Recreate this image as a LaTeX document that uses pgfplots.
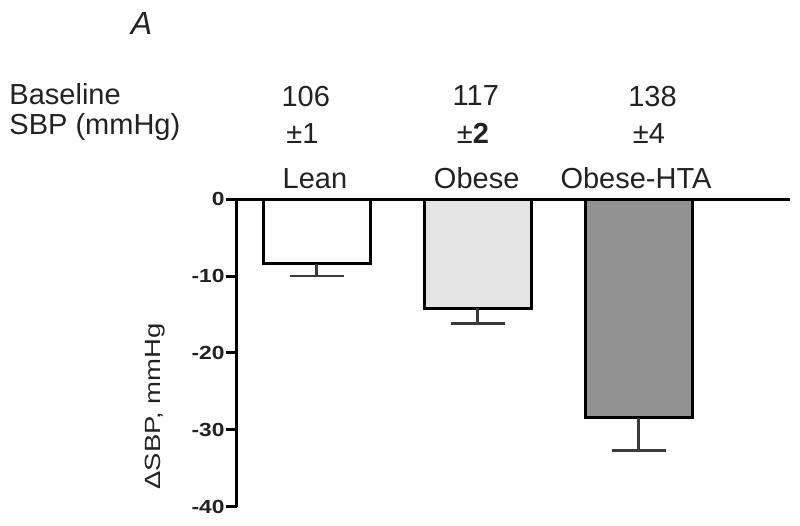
\documentclass[border=0pt]{standalone}
\usepackage{fontspec}
\setmainfont{Liberation Sans}
\usepackage{graphicx}
\usepackage{pgfplots}
\pgfplotsset{compat=1.18}
\definecolor{obesefill}{HTML}{E4E4E4}
\definecolor{htafill}{HTML}{929292}
\definecolor{errgray}{HTML}{3A3A3A}
\definecolor{txt}{HTML}{222222}

\begin{document}
\begin{tikzpicture}
\path[use as bounding box] (-236.7pt,-19.3pt) rectangle (563.3pt,506.7pt);
\begin{axis}[
  at={(0pt,0pt)}, anchor=south west,
  scale only axis, width=553.3pt, height=307.4pt,
  xmin=0.503, xmax=3.94, ymin=-40, ymax=0,
  clip=false,
  axis x line*=top, axis y line*=left,
  axis line style={line width=3.5pt, -},
  xtick=\empty,
  ytick={-40,-30,-20,-10,0},
  tick align=outside,
  major tick length=11pt,
  tick style={line width=3pt, black},
  /pgf/number format/assume math mode=true,
  yticklabel={\scalebox{1.2}[1]{\pgfmathprintnumber{\tick}}},
  yticklabel style={font=\fontsize{19}{19}\selectfont\bfseries, text=txt, inner xsep=1pt},
  bar width=107pt,
  every axis plot/.append style={ybar, bar shift=0pt, draw=black, line width=3pt},
  error bars/y dir=minus,
  error bars/y explicit,
  error bars/error bar style={line width=2.5pt, errgray},
  error bars/error mark options={rotate=90, mark size=27pt, line width=2.5pt, errgray},
]
\addplot[fill=white] coordinates {(1,-8.4) +- (0,1.55)};
\addplot[fill=obesefill] coordinates {(2,-14.2) +- (0,1.95)};
\addplot[fill=htafill] coordinates {(3,-28.4) +- (0,4.3)};

\node[rotate=90, anchor=center, text=txt, font=\fontsize{22}{22}\selectfont]
  at (axis description cs:-0.1477,0.326) {\scalebox{1.25}[1]{ΔSBP, mmHg}};
\end{axis}

\begin{scope}[every node/.style={font=\fontsize{29}{29}\selectfont, text=txt, inner sep=0pt}]
\node[anchor=base, font=\fontsize{32}{32}\selectfont\itshape] at (-95.2pt,471.7pt) {A};
\node[anchor=base west] at (-227.4pt,401.7pt) {Baseline};
\node[anchor=base west] at (-227.4pt,371.7pt) {SBP (mmHg)};
\node[anchor=base] at (69pt,399.7pt) {106};
\node[anchor=base] at (239.1pt,400.7pt) {117};
\node[anchor=base] at (415.8pt,399.7pt) {138};
\node[anchor=base] at (65.8pt,363.4pt) {±1};
\node[anchor=base] at (236.3pt,363.4pt) {±\textbf{2}};
\node[anchor=base] at (412.3pt,363.4pt) {±4};
\node[anchor=base] at (78.3pt,318.4pt) {Lean};
\node[anchor=base] at (240pt,318.4pt) {Obese};
\node[anchor=base] at (399.3pt,318.4pt) {Obese-HTA};
\end{scope}
\end{tikzpicture}
\end{document}
